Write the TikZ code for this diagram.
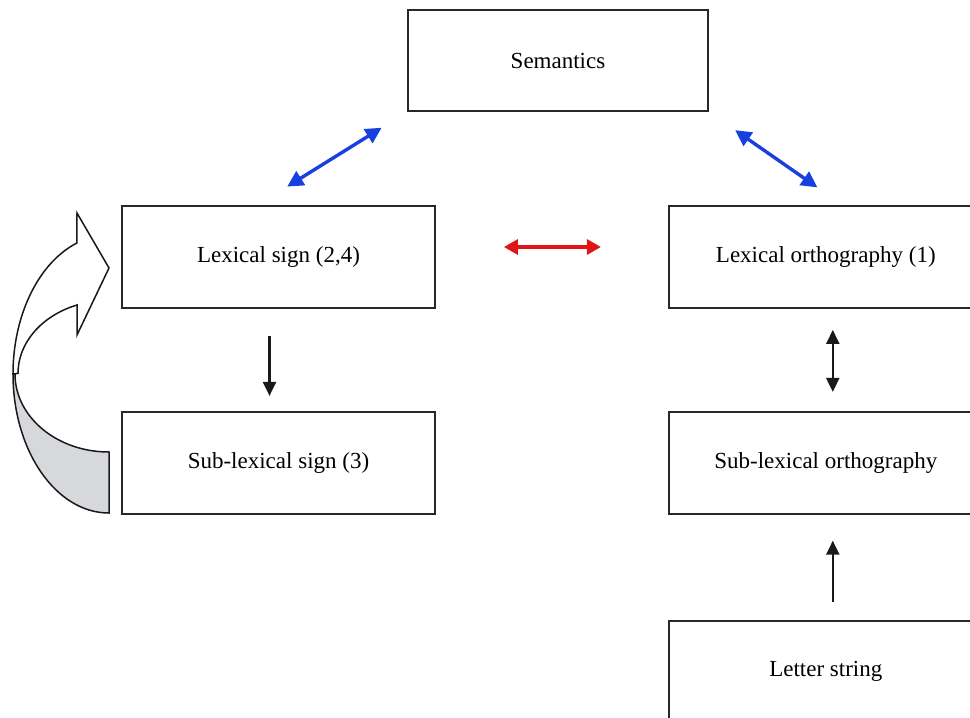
\documentclass[tikz,border=0pt]{standalone}
\usepackage{fontspec}
\setmainfont{Liberation Serif}
\usepackage{tikz}
\usetikzlibrary{arrows.meta, positioning, calc}

\definecolor{linkblue}{RGB}{24,64,224}
\definecolor{linkred}{RGB}{224,22,22}
\definecolor{loopgrey}{RGB}{214,216,219}
\definecolor{boxline}{RGB}{40,40,40}

\tikzset{
    stage/.style={draw=boxline, line width=1.8pt, fill=white, inner sep=0pt,
        minimum width=313pt, minimum height=102pt,
        font=\fontsize{23}{27}\selectfont},
    bluelink/.style={linkblue, line width=3.4pt,
        {Triangle[length=16pt,width=16pt]}-{Triangle[length=16pt,width=16pt]}},
    redlink/.style={linkred, line width=3.2pt,
        {Triangle[length=14pt,width=15pt]}-{Triangle[length=14pt,width=15pt]}},
    blacklink/.style={black!90, line width=2.2pt, -{Triangle[length=14pt,width=13pt]}},
}

\begin{document}
\begin{tikzpicture}[x=1pt, y=-1pt]
        \useasboundingbox (0,0) rectangle (970,718);

        % curved loop on the left
        \filldraw[fill=loopgrey, draw=black!90, line width=1.5pt]
            (109,513) arc[start angle=90, end angle=180, x radius=96, y radius=139]
            -- (15,374) arc[start angle=180, end angle=90, x radius=94, y radius=78]
            -- cycle;
        \filldraw[fill=white, draw=black!90, line width=1.5pt]
            (13,374) arc[start angle=180, end angle=250.5, x radius=96, y radius=139]
            -- (77,213) -- (109,268) -- (77,335) -- (77,305)
            arc[start angle=249.4, end angle=180, x radius=91, y radius=73]
            -- cycle;

        \node[stage, minimum width=300pt, minimum height=101pt] (sem) at (558,60.5) {Semantics};

        \node[stage] (lexsign) at (278.5,257) {Lexical sign (2,4)};
        \node[stage, minimum width=314pt, right=232pt of lexsign] (lexorth) {Lexical orthography (1)};
        \node[stage, below=102pt of lexsign] (sublexsign) {Sub-lexical sign (3)};
        \node[stage, minimum width=314pt, below=102pt of lexorth] (sublexorth) {Sub-lexical orthography};
        \node[stage, minimum width=314pt, below=105pt of sublexorth] (letters) {Letter string};

        \draw[bluelink, shorten <=35pt, shorten >=30pt]
            ($(lexsign.north)+(-21,0)$) -- (sem.south west);
        \draw[bluelink, shorten <=32pt, shorten >=31pt]
            (sem.south east) -- ($(lexorth.north)+(17,0)$);
        \draw[redlink, shorten <=68pt, shorten >=67pt]
            ($(lexsign.east)+(0,-10)$) -- ($(lexorth.west)+(0,-10)$);

        \draw[blacklink, shorten <=27pt, shorten >=15pt]
            ($(lexsign.south)+(-9,0)$) -- ($(sublexsign.north)+(-9,0)$);
        \draw[blacklink, {Triangle[length=14pt,width=13pt]}-{Triangle[length=14pt,width=13pt]},
            shorten <=21pt, shorten >=19pt]
            ($(lexorth.south)+(7,0)$) -- ($(sublexorth.north)+(7,0)$);
        \draw[blacklink, shorten <=18pt, shorten >=26pt]
            ($(letters.north)+(7,0)$) -- ($(sublexorth.south)+(7,0)$);
\end{tikzpicture}
\end{document}
